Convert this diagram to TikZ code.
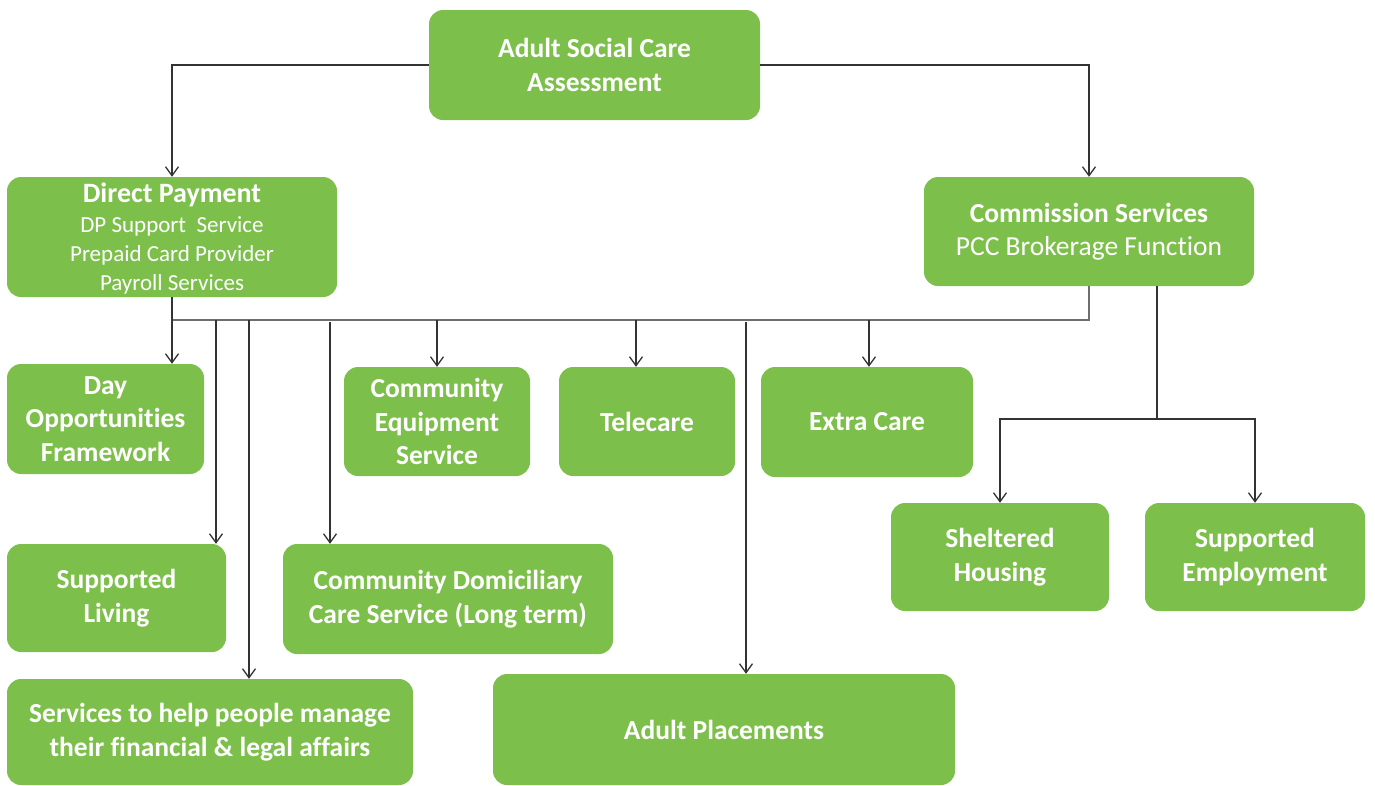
\documentclass[tikz,border=0pt]{standalone}
\usepackage{fontspec}
\setmainfont[Ligatures=NoCommon]{Carlito}
\usetikzlibrary{arrows.meta}
\definecolor{boxgreen}{HTML}{7DBF4B}
\definecolor{linegray}{HTML}{333333}
\definecolor{busgray}{HTML}{6E6E6E}
\begin{document}
\begin{tikzpicture}[x=1pt,y=-1pt,
  box/.style={draw=none,fill=boxgreen,rounded corners=14pt,text=white,align=center,inner sep=0pt,
    font=\fontsize{27.5}{33.5}\selectfont\bfseries},
  conn/.style={draw=linegray,line width=1.3pt},
  bus/.style={draw=busgray,line width=2pt},
  arr/.style={conn,-{Straight Barb[length=9pt,width=13pt,line width=1.3pt]}}]
\useasboundingbox (0,0) rectangle (1375,785);

\node[box,minimum width=331,minimum height=110] (asca) at (594.5,65) {Adult Social Care\\Assessment};
\node[box,minimum width=330,minimum height=120,font=\fontsize{23}{29}\selectfont\mdseries] (dp) at (172,237) {};
\node[align=center,text=white,inner sep=0pt,font=\fontsize{23}{29}\selectfont\mdseries] (dptext) at (172,239)
  {{\fontsize{28}{29}\selectfont\bfseries Direct Payment}\\[1pt]DP Support\ \ Service\\Prepaid Card Provider\\Payroll Services};
\node[box,minimum width=330,minimum height=109] (cs) at (1089,231.5)
  {Commission Services\\{\mdseries PCC Brokerage Function}};
\node[box,minimum width=197,minimum height=110] (dop) at (105.5,419) {Day\\Opportunities\\Framework};
\node[box,minimum width=186,minimum height=109] (ces) at (437,421.5) {Community\\Equipment\\Service};
\node[box,minimum width=176,minimum height=109] (tel) at (647,421.5) {Telecare};
\node[box,minimum width=212,minimum height=110] (ec) at (867,422) {Extra Care};
\node[box,minimum width=218,minimum height=108] (sh) at (1000,557) {Sheltered\\Housing};
\node[box,minimum width=220,minimum height=108] (se) at (1255,557) {Supported\\Employment};
\node[box,minimum width=219,minimum height=108] (sl) at (116.5,598) {Supported\\Living};
\node[box,minimum width=330,minimum height=110] (cdc) at (448,599) {Community Domiciliary\\Care Service (Long term)};
\node[box,minimum width=406,minimum height=106] (shp) at (210,732) {Services to help people manage\\their financial \& legal affairs};
\node[box,minimum width=462,minimum height=111] (ap) at (724,729.5) {Adult Placements};

% top connectors
\draw[arr] (asca.west) -| (dp.north);
\draw[arr] (asca.east) -| (cs.north);

% bus
\coordinate (bus) at (0,320);
\draw[bus] (dp.south |- bus) -- (cs.south |- bus) -- (cs.south);
\draw[conn] (dp.south) -- (dp.south |- bus);

\coordinate (dA) at (172,320);
\coordinate (dB) at (216,320);
\coordinate (dC) at (249,320);
\coordinate (dD) at (330,322);
\coordinate (dE) at (437,320);
\coordinate (dF) at (636,320);
\coordinate (dG) at (746,322);
\coordinate (dH) at (869,320);

\draw[arr] (dA) -- (dA |- dop.north);
\draw[arr] (dB) -- (dB |- sl.north);
\draw[arr] (dC) -- (dC |- shp.north);
\draw[arr] (dD) -- (dD |- cdc.north);
\draw[arr] (dE) -- (dE |- ces.north);
\draw[arr] (dF) -- (dF |- tel.north);
\draw[arr] (dG) -- (dG |- ap.north);
\draw[arr] (dH) -- (dH |- ec.north);

% commission branch
\coordinate (br) at (1157,419);
\draw[conn] (br |- cs.south) -- (br);
\draw[arr] (br) -| (sh.north);
\draw[arr] (br) -| (se.north);
\end{tikzpicture}
\end{document}
